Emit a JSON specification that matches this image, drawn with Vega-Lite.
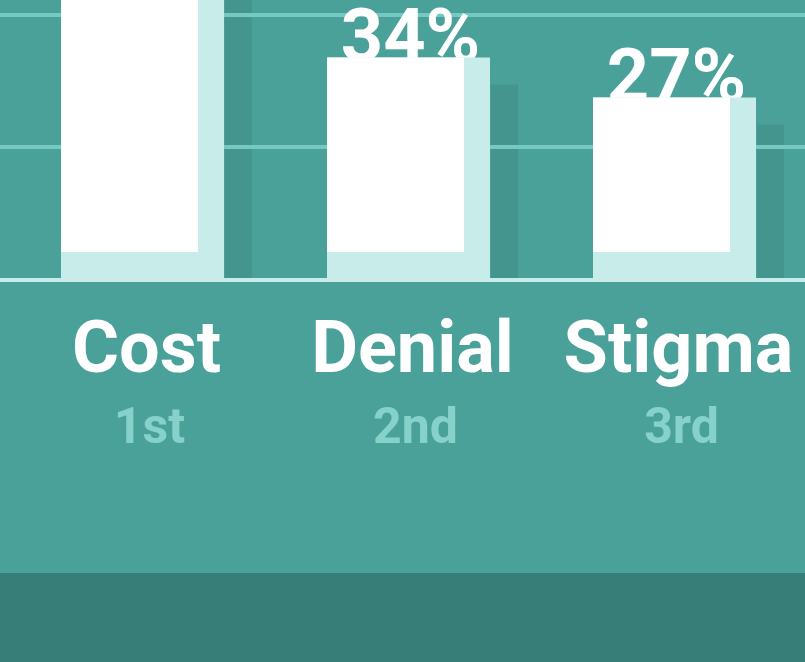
{
  "$schema": "https://vega.github.io/schema/vega-lite/v6.json",
  "width": 805,
  "height": 662,
  "autosize": {"type": "fit", "contains": "padding"},
  "padding": 0,
  "background": "#4aa19a",
  "config": {"view": {"stroke": null}, "font": "Roboto"},
  "data": {"values": [
    {"cause": "Cost", "rank": "1st", "pct": 0.52},
    {"cause": "Denial", "rank": "2nd", "pct": 0.34},
    {"cause": "Stigma", "rank": "3rd", "pct": 0.27}
  ]},
  "layer": [
    {
      "data": {"values": [{"from": -0.5612, "to": -0.7168}]},
      "mark": {"type": "rect", "color": "#377e79", "clip": true},
      "encoding": {
        "y": {"field": "from", "type": "quantitative", "axis": null, "scale": {"domain": [-0.7168, 0.4406], "nice": false, "zero": false}},
        "y2": {"field": "to"}
      }
    },
    {
      "mark": {"type": "rect", "color": "#43958e", "clip": true, "xOffset": 27, "x2Offset": 54, "yOffset": 27, "y2Offset": 26},
      "encoding": {
        "x": {"field": "cause", "type": "nominal", "sort": null, "bandPosition": 1, "axis": null,
              "scale": {"domain": ["Cost", "Denial", "Stigma"], "range": [61, 730], "paddingInner": 0.485, "paddingOuter": 0}},
        "x2": {"field": "cause", "bandPosition": 1},
        "y": {"field": "pct", "type": "quantitative", "axis": null},
        "y2": {"datum": 0}
      }
    },
    {
      "data": {"values": [{"level": 0.1836}, {"level": 0.4143}]},
      "mark": {"type": "rule", "color": "#76c9c2", "strokeWidth": 4, "clip": true, "xOffset": 11},
      "encoding": {
        "y": {"field": "level", "type": "quantitative", "axis": null}
      }
    },
    {
      "mark": {"type": "text", "font": "Roboto", "fontWeight": "bold", "fontSize": 74, "color": "white", "align": "center", "baseline": "alphabetic", "dx": 15, "dy": 3, "clip": true},
      "encoding": {
        "x": {"field": "cause", "type": "nominal", "sort": null, "bandPosition": 0.5, "axis": null},
        "y": {"field": "pct", "type": "quantitative", "axis": null},
        "text": {"field": "pct", "type": "quantitative", "format": ".0%"}
      }
    },
    {
      "mark": {"type": "rect", "color": "#c8ecea", "clip": true, "x2Offset": 26, "y2Offset": 26},
      "encoding": {
        "x": {"field": "cause", "type": "nominal", "sort": null, "bandPosition": 0, "axis": null},
        "x2": {"field": "cause", "bandPosition": 1},
        "y": {"field": "pct", "type": "quantitative", "axis": null},
        "y2": {"datum": 0}
      }
    },
    {
      "mark": {"type": "bar", "color": "#ffffff", "clip": true},
      "encoding": {
        "x": {"field": "cause", "type": "nominal", "sort": null, "axis": null},
        "y": {"field": "pct", "type": "quantitative", "axis": null},
        "y2": {"datum": 0}
      }
    },
    {
      "data": {"values": [{"level": 0}]},
      "mark": {"type": "rule", "color": "#c8ecea", "strokeWidth": 4, "yOffset": 28, "xOffset": 11, "clip": true},
      "encoding": {
        "y": {"field": "level", "type": "quantitative", "axis": null}
      }
    },
    {
      "mark": {"type": "text", "font": "Roboto", "fontWeight": "bold", "fontSize": 72, "color": "white", "align": "center", "baseline": "alphabetic", "dx": 17, "dy": 120},
      "encoding": {
        "x": {"field": "cause", "type": "nominal", "sort": null, "bandPosition": 0.5, "axis": null},
        "y": {"datum": 0, "type": "quantitative"},
        "text": {"field": "cause", "type": "nominal"}
      }
    },
    {
      "mark": {"type": "text", "font": "Roboto", "fontWeight": "bold", "fontSize": 50, "color": "#86d1ca", "align": "center", "baseline": "alphabetic", "dx": 20, "dy": 191},
      "encoding": {
        "x": {"field": "cause", "type": "nominal", "sort": null, "bandPosition": 0.5, "axis": null},
        "y": {"datum": 0, "type": "quantitative"},
        "text": {"field": "rank", "type": "nominal"}
      }
    }
  ]
}
